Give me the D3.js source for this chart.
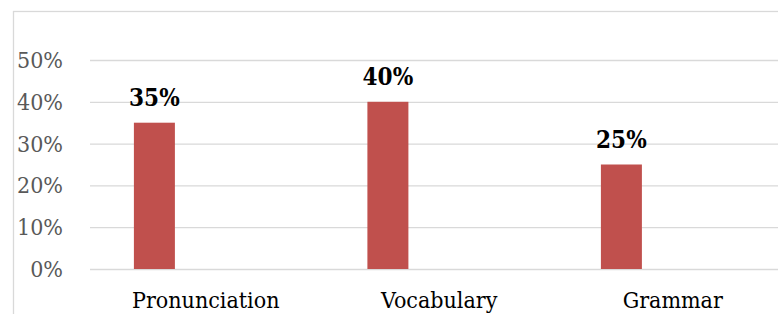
<!DOCTYPE html>
<html>
<head>
<meta charset="utf-8">
<script src="https://cdn.jsdelivr.net/npm/d3@7"></script>
<style>
  body { margin: 0; background: #fff; }
  svg { display: block; }
  svg text { font-family: "DejaVu Serif Condensed", "DejaVu Serif", serif; font-stretch: condensed; }
  .grid line { stroke: #d9d9d9; stroke-width: 1.3; }
  .grid path { display: none; }
</style>
</head>
<body>
<div id="chart"></div>
<script>
var categories = ["Pronunciation", "Vocabulary", "Grammar"];
var values = [0.35, 0.40, 0.25];
var yTicks = [0, 0.1, 0.2, 0.3, 0.4, 0.5];

var width = 778, height = 314;

var svg = d3.select('#chart').append('svg')
    .attr('width', width)
    .attr('height', height);

// chart frame (cut off on the right and bottom)
svg.append('rect')
    .attr('x', 13.5).attr('y', 11.5)
    .attr('width', 800).attr('height', 400)
    .attr('fill', 'none')
    .attr('stroke', '#d9d9d9')
    .attr('stroke-width', 1.3);

var xScale = d3.scaleBand()
    .domain(categories)
    .range([90, 790.5]);

var yScale = d3.scaleLinear()
    .domain([0, 0.5])
    .range([269, 60]);

// gridlines
svg.append('g')
    .attr('class', 'grid')
    .attr('transform', 'translate(90,0)')
    .call(d3.axisLeft(yScale).tickValues(yTicks).tickSize(-700).tickFormat(''));

// y tick labels
svg.selectAll('.ylab')
    .data(yTicks)
    .enter()
    .append('text')
    .attr('class', 'ylab')
    .attr('x', 63)
    .attr('y', function(d) { return yScale(d); })
    .attr('dy', '0.35em')
    .attr('text-anchor', 'end')
    .attr('font-size', 23)
    .attr('fill', '#595959')
    .text(d3.format('.0%'));

var bw = xScale.bandwidth();
var barW = 41;

svg.selectAll('.bar')
    .data(values)
    .enter()
    .append('rect')
    .attr('class', 'bar')
    .attr('x', function(d, i) { return xScale(categories[i]) + bw * 0.188; })
    .attr('y', function(d) { return yScale(d); })
    .attr('width', barW)
    .attr('height', function(d) { return yScale(0) - yScale(d); })
    .attr('fill', '#c0504d');

// value labels
svg.selectAll('.vlab')
    .data(values)
    .enter()
    .append('text')
    .attr('class', 'vlab')
    .attr('x', function(d, i) { return xScale(categories[i]) + bw * 0.188 + barW / 2; })
    .attr('y', function(d) { return yScale(d) - 17; })
    .attr('text-anchor', 'middle')
    .attr('font-size', 24)
    .attr('font-weight', 'bold')
    .attr('fill', '#000')
    .text(d3.format('.0%'));

// category labels
svg.selectAll('.xlab')
    .data(categories)
    .enter()
    .append('text')
    .attr('class', 'xlab')
    .attr('x', function(d) { return xScale(d) + bw / 2 - 1; })
    .attr('y', 308)
    .attr('text-anchor', 'middle')
    .attr('font-size', 23)
    .attr('fill', '#000')
    .text(function(d) { return d; });
</script>
</body>
</html>
